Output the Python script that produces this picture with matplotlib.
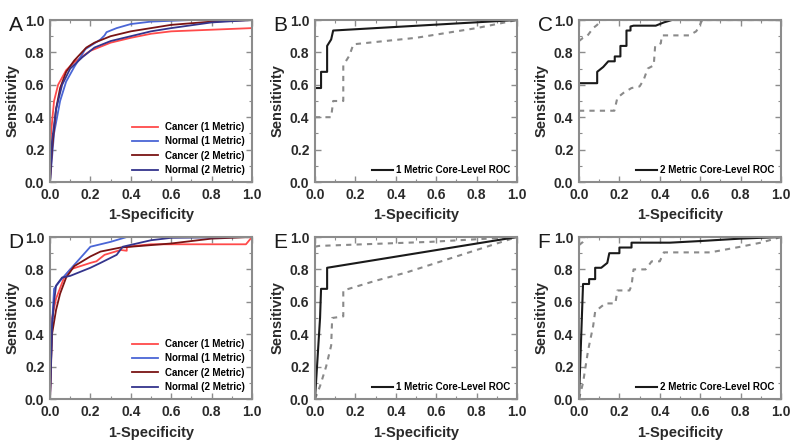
import matplotlib
matplotlib.use("Agg")
import matplotlib.pyplot as plt
from matplotlib.ticker import MultipleLocator

plt.rcParams['font.family'] = ['Liberation Sans', 'DejaVu Sans']

# ---------------- data ----------------
# Panel A (1 metric / 2 metric, cancer / normal)
a_c1_x = [0, 0.005, 0.02, 0.04, 0.08, 0.12, 0.2, 0.3, 0.4, 0.5, 0.6, 0.8, 1.0]
a_c1_y = [0, 0.30, 0.50, 0.60, 0.69, 0.74, 0.81, 0.86, 0.89, 0.915, 0.93, 0.94, 0.95]
a_n1_x = [0, 0.02, 0.05, 0.08, 0.12, 0.16, 0.175, 0.2, 0.25, 0.27, 0.28, 0.33, 0.4, 0.5, 0.7, 1.0]
a_n1_y = [0, 0.30, 0.50, 0.62, 0.71, 0.79, 0.82, 0.84, 0.88, 0.905, 0.925, 0.95, 0.975, 0.99, 1.0, 1.0]
a_c2_x = [0, 0.01, 0.03, 0.05, 0.08, 0.12, 0.18, 0.22, 0.3, 0.4, 0.6, 0.8, 1.0]
a_c2_y = [0, 0.20, 0.45, 0.58, 0.68, 0.75, 0.83, 0.86, 0.90, 0.93, 0.97, 0.99, 1.0]
a_n2_x = [0, 0.01, 0.03, 0.06, 0.10, 0.16, 0.22, 0.3, 0.4, 0.5, 0.6, 0.8, 1.0]
a_n2_y = [0, 0.25, 0.45, 0.60, 0.70, 0.77, 0.83, 0.87, 0.90, 0.93, 0.95, 0.985, 1.0]

# Panel D
d_c1_x = [0, 0.01, 0.03, 0.07, 0.10, 0.20, 0.23, 0.27, 0.35, 0.38, 0.38, 0.5, 0.97, 1.0]
d_c1_y = [0, 0.50, 0.62, 0.75, 0.80, 0.84, 0.85, 0.89, 0.92, 0.915, 0.94, 0.955, 0.955, 1.0]
d_n1_x = [0, 0.01, 0.02, 0.05, 0.10, 0.20, 0.30, 0.38, 1.0]
d_n1_y = [0, 0.45, 0.68, 0.73, 0.80, 0.94, 0.97, 1.0, 1.0]
d_c2_x = [0, 0.01, 0.03, 0.05, 0.08, 0.12, 0.20, 0.25, 0.35, 0.5, 0.6, 0.8, 1.0]
d_c2_y = [0, 0.40, 0.55, 0.65, 0.75, 0.82, 0.88, 0.91, 0.935, 0.95, 0.96, 0.99, 1.0]
d_n2_x = [0, 0.01, 0.02, 0.03, 0.06, 0.10, 0.20, 0.25, 0.33, 0.36, 0.5, 0.6, 1.0]
d_n2_y = [0, 0.45, 0.60, 0.70, 0.75, 0.76, 0.81, 0.84, 0.89, 0.94, 0.98, 0.995, 1.0]

# Panel B (1 metric core-level)
b_s_x = [0, 0.03, 0.03, 0.06, 0.06, 0.08, 0.09, 1.0]
b_s_y = [0.58, 0.58, 0.68, 0.68, 0.84, 0.88, 0.935, 1.0]
b_d_x = [0, 0.08, 0.09, 0.14, 0.14, 0.17, 0.19, 0.5, 0.8, 1.0]
b_d_y = [0.40, 0.40, 0.50, 0.50, 0.72, 0.78, 0.85, 0.89, 0.95, 1.0]

# Panel C (2 metric core-level)
c_s_x = [0, 0.09, 0.09, 0.12, 0.145, 0.177, 0.177, 0.205, 0.205, 0.235, 0.235, 0.255, 0.255, 0.27, 0.38, 0.42, 0.46, 1.0]
c_s_y = [0.61, 0.61, 0.68, 0.71, 0.745, 0.745, 0.775, 0.775, 0.84, 0.84, 0.935, 0.935, 0.96, 0.965, 0.965, 0.985, 1.0, 1.0]
c_d1_x = [0, 0.02, 0.04, 0.07, 0.09, 0.11, 1.0]
c_d1_y = [0.87, 0.89, 0.90, 0.95, 0.97, 1.0, 1.0]
c_d2_x = [0, 0.175, 0.19, 0.22, 0.26, 0.30, 0.32, 0.34, 0.37, 0.377, 0.405, 0.41, 0.545, 0.58, 0.595, 0.61, 1.0]
c_d2_y = [0.44, 0.44, 0.52, 0.55, 0.58, 0.59, 0.63, 0.70, 0.72, 0.84, 0.856, 0.905, 0.905, 0.93, 0.96, 1.0, 1.0]

# Panel E (1 metric core-level)
e_s_x = [0, 0.025, 0.03, 0.06, 0.06, 1.0]
e_s_y = [0, 0.50, 0.68, 0.68, 0.81, 1.0]
e_d1_x = [0, 0.02, 0.57, 1.0]
e_d1_y = [0.94, 0.945, 0.97, 1.0]
e_d2_x = [0, 0.025, 0.055, 0.08, 0.085, 0.14, 0.14, 0.3, 0.45, 0.6, 0.75, 0.9, 1.0]
e_d2_y = [0, 0.08, 0.20, 0.33, 0.50, 0.51, 0.67, 0.73, 0.78, 0.84, 0.90, 0.96, 1.0]

# Panel F (2 metric core-level)
f_s_x = [0, 0.02, 0.05, 0.05, 0.08, 0.08, 0.11, 0.14, 0.15, 0.20, 0.20, 0.26, 0.26, 0.45, 0.6, 0.8, 1.0]
f_s_y = [0, 0.71, 0.71, 0.74, 0.74, 0.81, 0.81, 0.84, 0.90, 0.90, 0.935, 0.935, 0.965, 0.965, 0.975, 0.99, 1.0]
f_d1_x = [0, 0.02, 0.04, 1.0]
f_d1_y = [0.95, 0.97, 1.0, 1.0]
f_d2_x = [0, 0.02, 0.045, 0.07, 0.08, 0.10, 0.13, 0.18, 0.19, 0.25, 0.26, 0.27, 0.33, 0.36, 0.40, 0.42, 0.65, 0.8, 0.9, 1.0]
f_d2_y = [0, 0.10, 0.30, 0.45, 0.54, 0.56, 0.59, 0.59, 0.67, 0.67, 0.70, 0.80, 0.80, 0.85, 0.85, 0.905, 0.905, 0.94, 0.965, 1.0]

legend_labels = ["Cancer (1 Metric)", "Normal (1 Metric)", "Cancer (2 Metric)", "Normal (2 Metric)"]
series_colors = ["#ff4a4a", "#4a66d6", "#7a1414", "#34348c"]
panel_letters = ["A", "B", "C", "D", "E", "F"]
tick_vals = [0, 0.2, 0.4, 0.6, 0.8, 1.0]

# ---------------- figure ----------------
fig = plt.figure(figsize=(8, 4.48), dpi=100)
W, H = 800, 448
lefts = [50, 315, 579]
tops = [20, 237]
aw, ah = 202, 162

frame_col = "#8c8c8c"
text_col = "#2a2a2a"

axes = []
for r in range(2):
    for c in range(3):
        ax = fig.add_axes([lefts[c] / W, 1 - (tops[r] + ah) / H, aw / W, ah / H])
        axes.append(ax)

def style(ax, letter):
    ax.set_xlim(0, 1)
    ax.set_ylim(0, 1)
    ax.set_xticks(tick_vals)
    ax.set_yticks(tick_vals)
    ax.xaxis.set_minor_locator(MultipleLocator(0.1))
    ax.yaxis.set_minor_locator(MultipleLocator(0.1))
    ax.tick_params(which='both', direction='in', top=True, right=True, color=frame_col)
    ax.tick_params(which='major', length=4, width=1)
    ax.tick_params(which='minor', length=2, width=0.8)
    ax.tick_params(which='major', labelsize=10, labelcolor=text_col, pad=4)
    ax.set_xticklabels([f"{v:.1f}" for v in tick_vals], fontweight='bold')
    ax.set_yticklabels([f"{v:.1f}" for v in tick_vals], fontweight='bold')
    for s in ax.spines.values():
        s.set_color(frame_col)
        s.set_linewidth(1.5)
    ax.set_xlabel("1-Specificity", fontsize=10.5, fontweight='bold', color=text_col, labelpad=5)
    ax.set_ylabel("Sensitivity", fontsize=10.5, fontweight='bold', color=text_col, labelpad=4)
    ax.text(-0.205, 0.965, letter, transform=ax.transAxes, fontsize=15, color="#1a1a1a",
            ha='left', va='center')

lw_c = 1.3
# A
ax = axes[0]
for xs, ys, col, lab in zip([a_c1_x, a_n1_x, a_c2_x, a_n2_x], [a_c1_y, a_n1_y, a_c2_y, a_n2_y],
                            series_colors, legend_labels):
    ax.plot(xs, ys, color=col, lw=lw_c, label=lab)
style(ax, panel_letters[0])
ax.legend(loc='lower right', frameon=False, handlelength=2.6, labelspacing=0.45,
          borderaxespad=0.3, prop={'weight': 'bold', 'size': 7})

# D
ax = axes[3]
for xs, ys, col, lab in zip([d_c1_x, d_n1_x, d_c2_x, d_n2_x], [d_c1_y, d_n1_y, d_c2_y, d_n2_y],
                            series_colors, legend_labels):
    ax.plot(xs, ys, color=col, lw=lw_c, label=lab)
style(ax, panel_letters[3])
ax.legend(loc='lower right', frameon=False, handlelength=2.6, labelspacing=0.45,
          borderaxespad=0.3, prop={'weight': 'bold', 'size': 7})

dash_col = "#8a8a8a"
def core(ax, sx, sy, dashed, label, letter):
    for dx, dy in dashed:
        ax.plot(dx, dy, color=dash_col, lw=1.5, ls=(0, (2.5, 2.5)))
    ax.plot(sx, sy, color="#1a1a1a", lw=1.5, label=label)
    style(ax, letter)
    ax.legend(loc='lower right', frameon=False, handlelength=2.2,
              borderaxespad=0.3, handletextpad=0.3, prop={'weight': 'bold', 'size': 7})

core(axes[1], b_s_x, b_s_y, [(b_d_x, b_d_y)], "1 Metric Core-Level ROC", panel_letters[1])
core(axes[2], c_s_x, c_s_y, [(c_d1_x, c_d1_y), (c_d2_x, c_d2_y)], "2 Metric Core-Level ROC", panel_letters[2])
core(axes[4], e_s_x, e_s_y, [(e_d1_x, e_d1_y), (e_d2_x, e_d2_y)], "1 Metric Core-Level ROC", panel_letters[4])
core(axes[5], f_s_x, f_s_y, [(f_d1_x, f_d1_y), (f_d2_x, f_d2_y)], "2 Metric Core-Level ROC", panel_letters[5])

fig.savefig("out.png", dpi=100)
